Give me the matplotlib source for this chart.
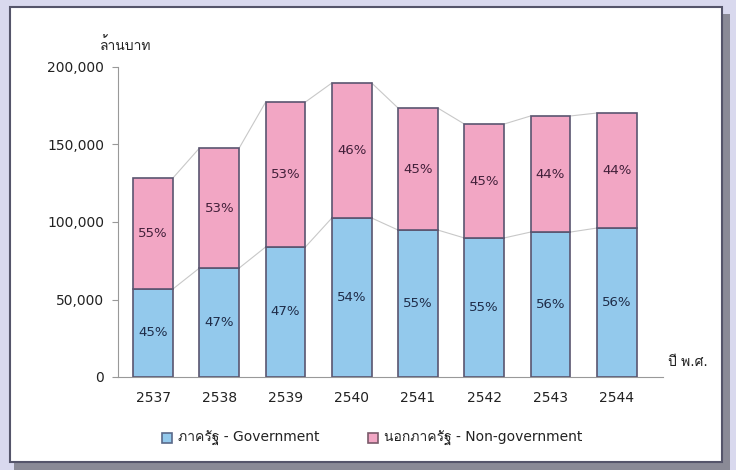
import matplotlib
matplotlib.use("Agg")
import matplotlib.pyplot as plt
from matplotlib.patches import Rectangle
import numpy as np

years = ["2537", "2538", "2539", "2540", "2541", "2542", "2543", "2544"]
gov = [56800, 70300, 83900, 102600, 94800, 89700, 93500, 96100]
total = [128400, 147700, 177400, 189700, 173500, 163200, 168400, 170300]
gov_pct = ["45%", "47%", "47%", "54%", "55%", "55%", "56%", "56%"]
non_pct = ["55%", "53%", "53%", "46%", "45%", "45%", "44%", "44%"]
non_gov = [t - g for t, g in zip(total, gov)]

# DejaVu for latin, Loma for the thai glyphs
plt.rcParams["font.family"] = ["DejaVu Sans", "Loma"]

blue = "#93c9ec"
pink = "#f2a6c4"
edge = "#5a5570"

fig = plt.figure(figsize=(7.36, 4.70), dpi=100)
fig.patch.set_facecolor("#d9d9ee")
# shadow + white panel
fig.patches.append(Rectangle((14 / 736, 0), 716 / 736, 456 / 470, transform=fig.transFigure,
                             facecolor="#8a8a96", edgecolor="none", zorder=-10))
fig.patches.append(Rectangle((10 / 736, 8 / 470), 712 / 736, 455 / 470, transform=fig.transFigure,
                             facecolor="white", edgecolor="#55556a", linewidth=1.5, zorder=-9))

ax = fig.add_axes([118 / 736, 93 / 470, 545 / 736, 310 / 470])
ax.set_facecolor("none")
x = np.arange(len(years))
w = 0.6
ax.bar(x, gov, w, color=blue, edgecolor=edge, linewidth=1.2, zorder=3)
ax.bar(x, non_gov, w, bottom=gov, color=pink, edgecolor=edge, linewidth=1.2, zorder=3)

# connector lines between bars
for i in range(len(years) - 1):
    for s in (gov, total):
        ax.plot([x[i] + w / 2, x[i + 1] - w / 2], [s[i], s[i + 1]], color="#c8c8c8",
                linewidth=0.8, zorder=2)

for i in range(len(years)):
    ax.text(x[i], gov[i] / 2, gov_pct[i], ha="center", va="center",
            fontsize=9.5, color="#1f2c48", zorder=4)
    ax.text(x[i], gov[i] + non_gov[i] / 2, non_pct[i], ha="center", va="center",
            fontsize=9.5, color="#42203a", zorder=4)

ax.set_xlim(-0.53, 7.7)
ax.set_ylim(0, 200000)
ax.set_yticks([0, 50000, 100000, 150000, 200000])
ax.set_yticklabels(["0", "50,000", "100,000", "150,000", "200,000"])
ax.set_xticks(x)
ax.set_xticklabels(years)
for s in ["top", "right"]:
    ax.spines[s].set_visible(False)
ax.spines["left"].set_color("#999999")
ax.spines["bottom"].set_color("#999999")
ax.tick_params(axis="y", length=4, color="#999999", labelsize=10, labelcolor="#222222", pad=6)
ax.tick_params(axis="x", length=0, labelsize=10, labelcolor="#222222", pad=10)

fig.text(100 / 736, 1 - 45 / 470, "ล้านบาท", fontsize=10, color="#222222", va="center")
fig.text(668 / 736, 1 - 362 / 470, "ปี พ.ศ.", fontsize=10, color="#222222", va="center")

# legend
fig.patches.append(Rectangle((162 / 736, 1 - 443 / 470), 10 / 736, 10 / 470, transform=fig.transFigure,
                             facecolor=blue, edgecolor="#5a6a8a", linewidth=1.2))
fig.text(178 / 736, 1 - 438 / 470, "ภาครัฐ - Government", fontsize=10, color="#222222", va="center")
fig.patches.append(Rectangle((368 / 736, 1 - 443 / 470), 10 / 736, 10 / 470, transform=fig.transFigure,
                             facecolor=pink, edgecolor="#7a5a6a", linewidth=1.2))
fig.text(384 / 736, 1 - 438 / 470, "นอกภาครัฐ - Non-government", fontsize=10, color="#222222", va="center")

fig.savefig("out.png", dpi=100, facecolor=fig.get_facecolor())
